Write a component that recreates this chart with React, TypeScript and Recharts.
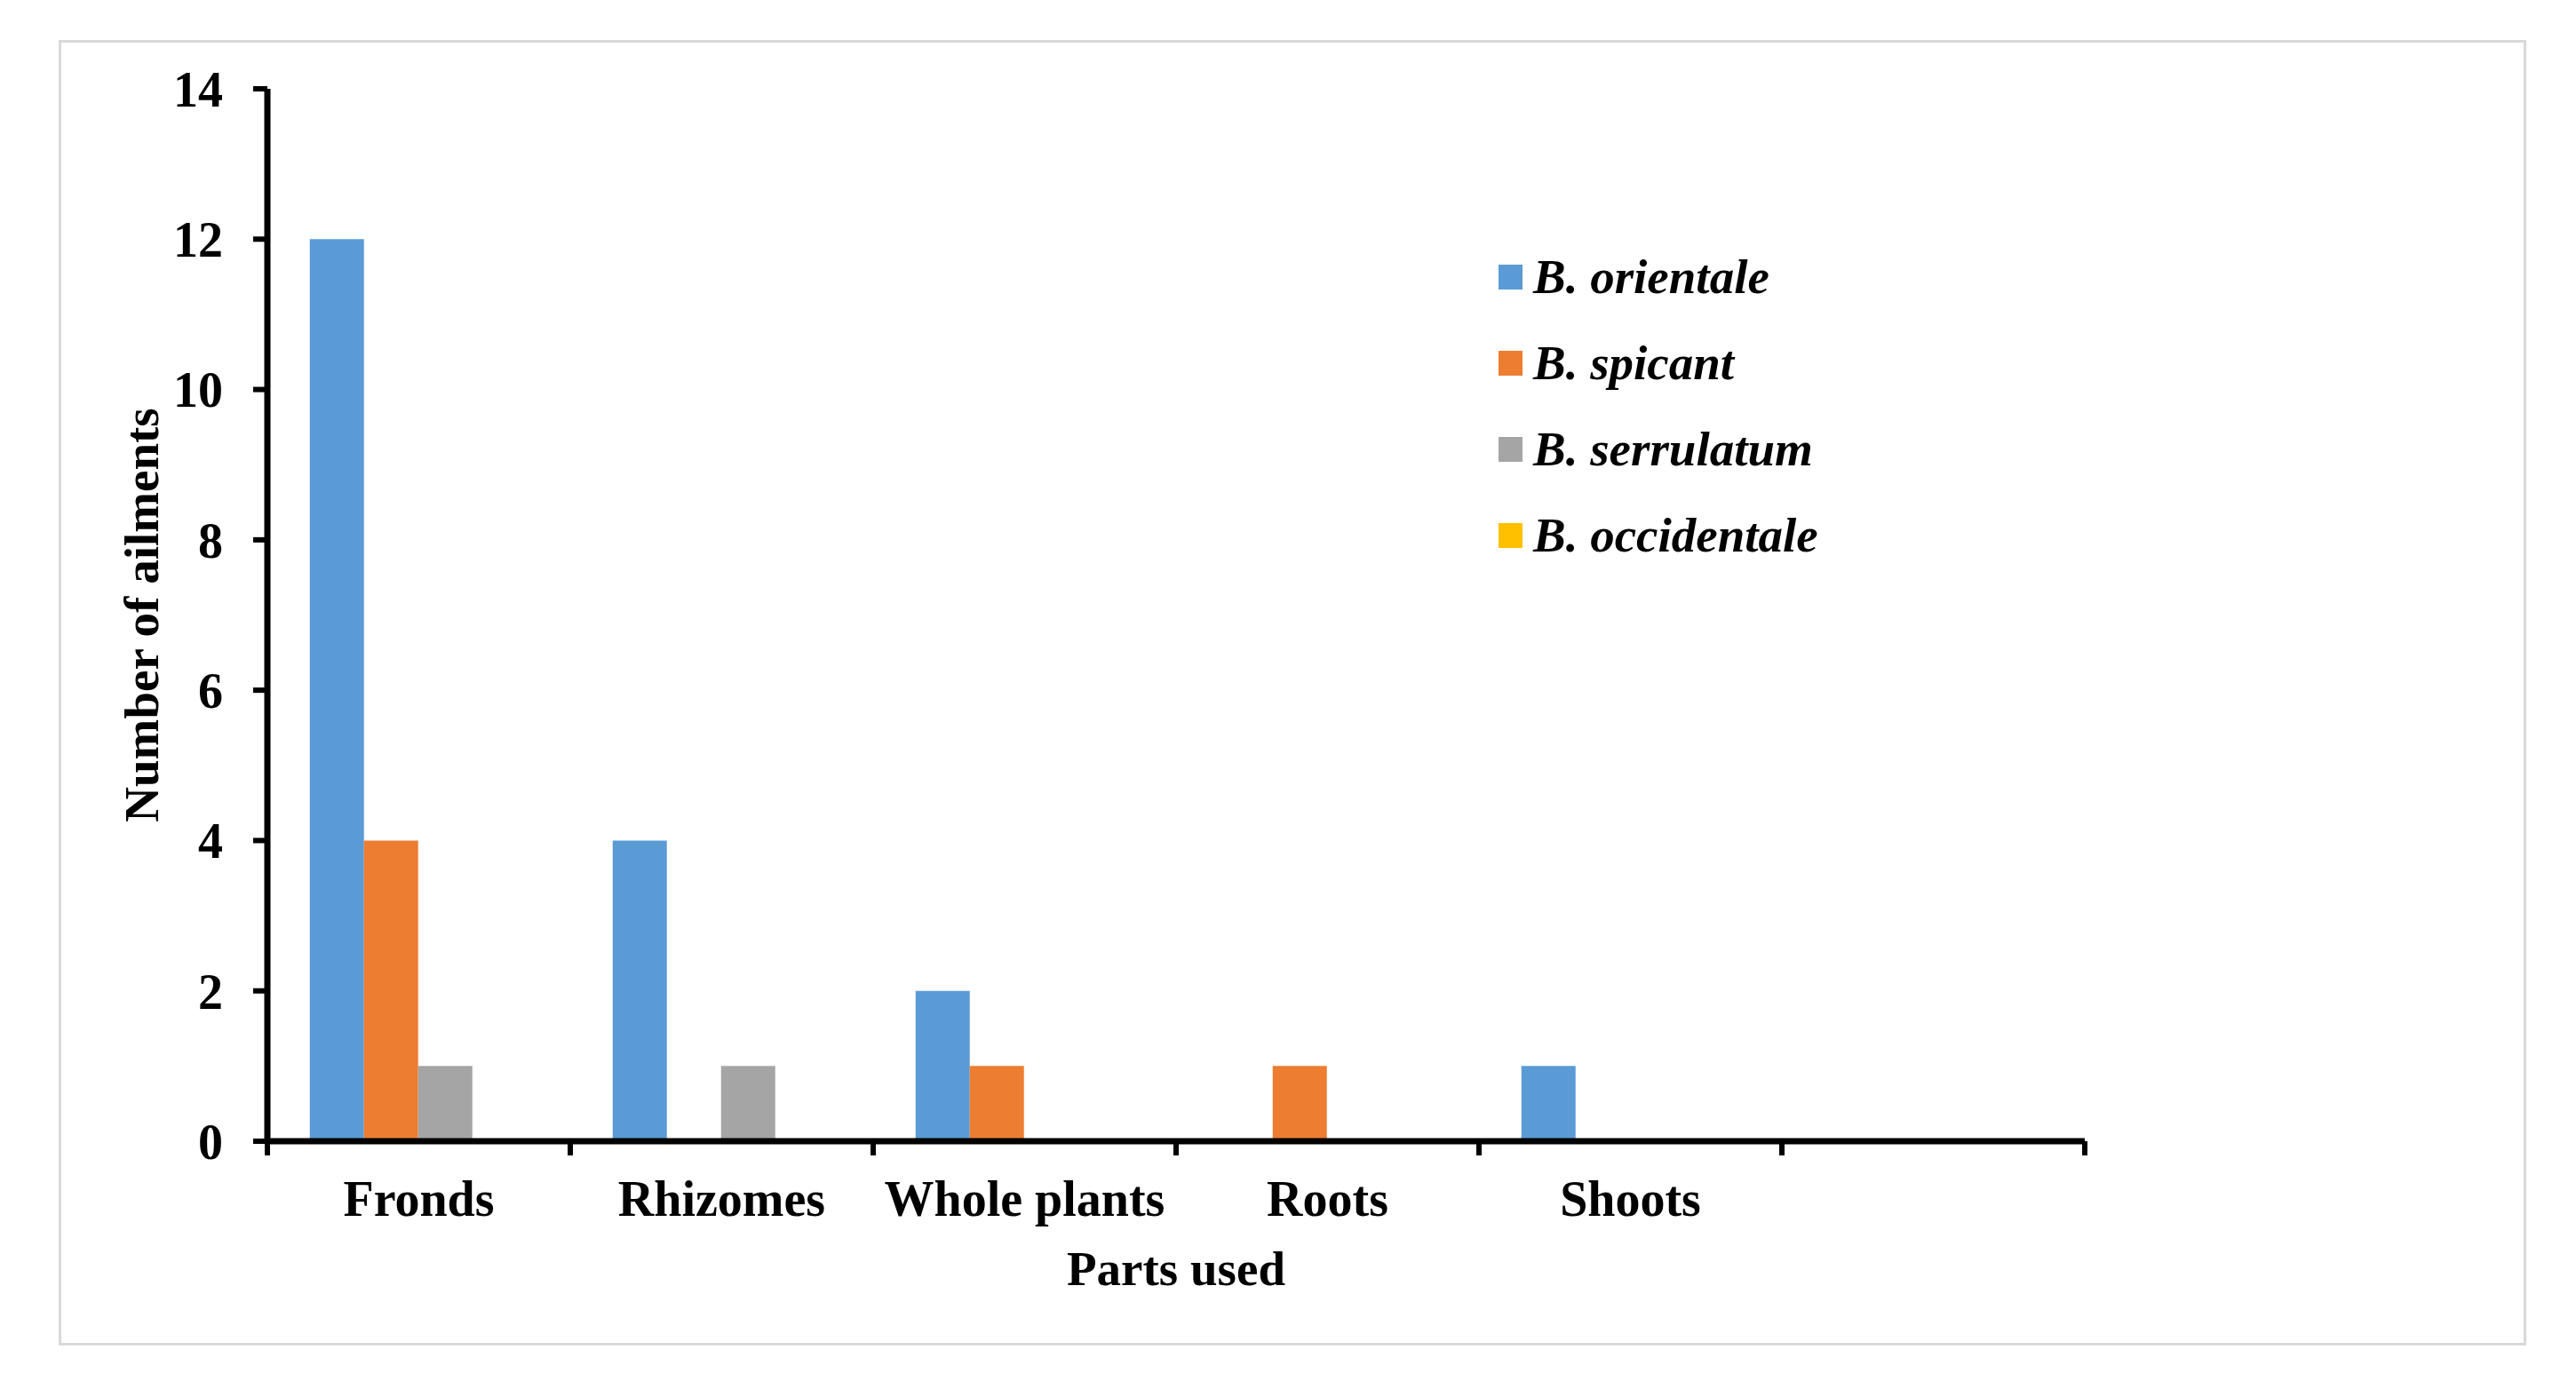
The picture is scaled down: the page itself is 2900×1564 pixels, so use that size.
import React from "react";
import { BarChart, Bar, XAxis, YAxis, Legend } from "recharts";

const categories = ["Fronds", "Rhizomes", "Whole plants", "Roots", "Shoots", ""];
const orientale = [12, 4, 2, 0, 1, 0];
const spicant = [4, 0, 1, 1, 0, 0];
const serrulatum = [1, 1, 0, 0, 0, 0];
const occidentale = [0, 0, 0, 0, 0, 0];
const yTicks = [0, 2, 4, 6, 8, 10, 12, 14];

const SERIES = [
  { key: "orientale", name: "B. orientale", color: "#5B9BD5" },
  { key: "spicant", name: "B. spicant", color: "#ED7D31" },
  { key: "serrulatum", name: "B. serrulatum", color: "#A5A5A5" },
  { key: "occidentale", name: "B. occidentale", color: "#FFC000" },
];

const data = categories.map((part, i) => ({
  part,
  orientale: orientale[i],
  spicant: spicant[i],
  serrulatum: serrulatum[i],
  occidentale: occidentale[i],
}));

const FONT = '"Liberation Serif", "Times New Roman", serif';
const W = 2900;
const H = 1564;
const MARGIN = { top: 100, right: 553, left: 15, bottom: 79 };
const Y_AXIS_W = 286;
const X_AXIS_H = 200;
const PLOT_W = W - MARGIN.left - Y_AXIS_W - MARGIN.right;
const HALF_BAND = PLOT_W / categories.length / 2;

// category labels sit in the middle, tick marks on the band edges (Excel style)
function PartTick(props: any) {
  const { x, y, payload, index, visibleTicksCount } = props;
  const last = index === visibleTicksCount - 1;
  return (
    <g>
      <line x1={x - HALF_BAND} x2={x - HALF_BAND} y1={y} y2={y + 16} stroke="#000" strokeWidth={6} />
      {last && (
        <line x1={x + HALF_BAND} x2={x + HALF_BAND} y1={y} y2={y + 16} stroke="#000" strokeWidth={6} />
      )}
      <text
        x={x}
        y={y + 44}
        dy="0.71em"
        textAnchor="middle"
        fontFamily={FONT}
        fontWeight="bold"
        fontSize={56}
        fill="#000"
      >
        {payload.value}
      </text>
    </g>
  );
}

function SpeciesLegend(props: any) {
  const order = (v: string) => SERIES.findIndex((s) => s.name === v);
  const items = [...(props.payload || [])].sort((a: any, b: any) => order(a.value) - order(b.value));
  return (
    <div style={{ fontFamily: FONT }}>
      {items.map((item: any) => (
        <div
          key={item.value}
          style={{ display: "flex", alignItems: "center", height: 97, lineHeight: "97px" }}
        >
          <span style={{ width: 27, height: 28, background: item.color, marginRight: 12, display: "inline-block" }} />
          <span style={{ fontSize: 55, fontWeight: "bold", fontStyle: "italic", color: "#000", whiteSpace: "nowrap" }}>
            {item.value}
          </span>
        </div>
      ))}
    </div>
  );
}

export default function App() {
  return (
    <div style={{ position: "absolute", left: 0, top: 0, width: W, height: H, background: "#fff" }}>
      <div
        style={{
          position: "absolute",
          left: 66,
          top: 45,
          width: 2778,
          height: 1470,
          border: "3px solid #d9d9d9",
          boxSizing: "border-box",
        }}
      />
      <div style={{ position: "absolute", left: 0, top: 0 }}>
        <BarChart width={W} height={H} data={data} margin={MARGIN} barCategoryGap="14%" barGap={0}>
          <XAxis
            dataKey="part"
            height={X_AXIS_H}
            interval={0}
            tickLine={false}
            tickSize={0}
            tickMargin={0}
            axisLine={{ stroke: "#000", strokeWidth: 7 }}
            tick={<PartTick />}
            label={{
              value: "Parts used",
              position: "insideTop",
              offset: 123,
              fontFamily: FONT,
              fontWeight: "bold",
              fontSize: 55,
              fill: "#000",
            }}
          />
          <YAxis
            width={Y_AXIS_W}
            domain={[0, 14]}
            ticks={yTicks}
            interval={0}
            tickSize={16}
            tickMargin={34}
            axisLine={{ stroke: "#000", strokeWidth: 7 }}
            tickLine={{ stroke: "#000", strokeWidth: 6 }}
            tick={{ fontFamily: FONT, fontWeight: "bold", fontSize: 56, fill: "#000" }}
            label={{
              value: "Number of ailments",
              angle: -90,
              position: "center",
              fontFamily: FONT,
              fontWeight: "bold",
              fontSize: 55,
              fill: "#000",
            }}
          />
          <Legend
            layout="vertical"
            align="center"
            verticalAlign="middle"
            wrapperStyle={{ left: 1687, top: 263, width: "auto" }}
            content={<SpeciesLegend />}
          />
          {SERIES.map((s) => (
            <Bar key={s.key} dataKey={s.key} name={s.name} fill={s.color} isAnimationActive={false} />
          ))}
        </BarChart>
      </div>
    </div>
  );
}
